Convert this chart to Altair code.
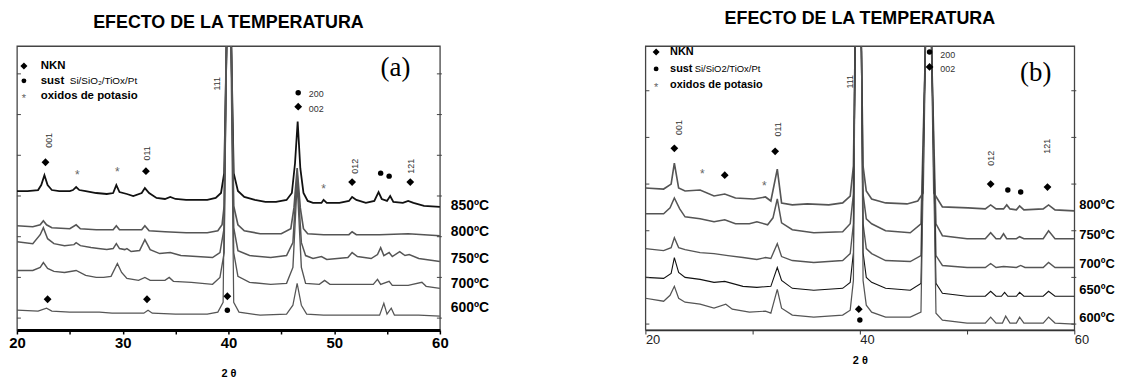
import altair as alt
import pandas as pd

TITLE = "EFECTO DE LA TEMPERATURA"
FONT = "Liberation Sans"

# ---------------- panel (a) data ----------------
A_NAMES = ["850ºC", "800ºC", "750ºC", "700ºC", "600ºC"]
A850_X = [20, 21, 22, 22.3, 22.6, 22.9, 23.3, 24, 25, 25.3, 25.6, 25.9, 26.5, 27.5, 28.5, 29.1, 29.4, 29.7, 30.4, 31,
          31.8, 32.1, 32.5, 33.2, 34, 34.5, 35, 36, 37, 38, 38.8, 39.3, 39.6, 39.8, 40.05, 40.3, 40.5, 40.9, 41.5, 42.5,
          43.5, 44.5, 45.5, 46.0, 46.3, 46.55, 46.8, 47.1, 47.5, 48, 48.8, 49.0, 49.3, 50.5, 51.4, 51.7, 52.1, 53, 53.8, 54.2,
          54.5, 55.0, 55.3, 55.6, 56.5, 57.0, 57.5, 58.5, 60]
A850_Y = [140, 140, 141, 146, 156, 146, 141, 140, 140, 141, 144, 141, 140, 138, 137, 138, 146, 139, 137, 135,
          138, 143, 138, 133, 132, 134, 132, 131, 131, 131, 133, 138, 158, 270, 420, 270, 158, 140, 134, 131,
          129, 129, 131, 138, 168, 210, 163, 138, 130, 128, 128, 131, 128, 128, 130, 134, 131, 128, 130, 139,
          132, 130, 135, 129, 128, 130, 128, 125, 124]
A800_X = [20, 21.5, 22.2, 22.5, 22.8, 23.3, 25, 25.6, 26, 27.5, 29.1, 29.4, 29.7, 31.8, 32.1, 32.5, 34, 36, 38, 39,
          39.4, 39.6, 39.8, 40.05, 40.3, 40.5, 40.9, 41.5, 43, 45, 45.9, 46.2, 46.5, 46.8, 47.1, 47.5, 49, 51.4, 51.7, 52.1,
          54.3, 57, 60]
A800_Y = [105, 104, 106, 110, 106, 103, 102, 106, 102, 101, 101, 105, 101, 101, 105, 100, 99, 98, 98, 100,
          106, 125, 270, 420, 270, 125, 106, 100, 97, 97, 102, 123, 163, 123, 102, 97, 96, 96, 99, 96,
          96, 97, 95]
A750_X = [20, 21.5, 22.2, 22.5, 22.9, 23.5, 24.5, 25.4, 25.6, 26, 27, 27.7, 28.5, 29.1, 29.4, 29.7, 30.2, 30.4, 30.8, 31.6,
          32.1, 32.6, 33.5, 34.5, 35.5, 37, 38.5, 39.2, 39.6, 39.8, 40.05, 40.3, 40.5, 40.9, 42, 44, 45.5, 46.1, 46.5, 46.9,
          47.3, 48, 48.8, 49.3, 51.3, 51.7, 52.2, 53.5, 54.1, 54.4, 54.7, 55.2, 55.5, 56.2, 56.7, 57.1, 58, 60]
A750_Y = [89, 87, 96, 103, 92, 87, 85, 86, 88, 85, 83, 82, 81, 82, 87, 82, 81, 82, 79, 80,
          91, 81, 77, 78, 75, 74, 73, 78, 103, 270, 420, 270, 103, 80, 75, 73, 75, 88, 158, 88,
          75, 72, 74, 71, 73, 78, 74, 72, 76, 83, 75, 78, 74, 79, 75, 76, 72, 69]
A700_X = [20, 21.5, 22.2, 22.5, 22.9, 23.5, 24.5, 25.6, 26.5, 27.5, 28.2, 28.9, 29.5, 29.9, 30.4, 31.5, 32.1, 32.6, 34, 34.4,
          34.8, 36.5, 38.5, 39.2, 39.6, 39.8, 40.05, 40.3, 40.5, 40.9, 42, 44, 45.5, 46.1, 46.5, 46.9, 47.3, 48.6, 49.1, 49.6,
          51.7, 53.7, 54.1, 54.4, 55.2, 55.5, 57, 58.3, 58.7, 60]
A700_Y = [60, 60, 63, 68, 62, 59, 58, 60, 55, 53, 53, 54, 67, 58, 52, 50, 53, 50, 50, 53,
          49, 48, 46, 53, 78, 270, 420, 270, 78, 54, 48, 46, 47, 63, 148, 63, 47, 46, 50, 46,
          46, 46, 51, 46, 49, 45, 45, 48, 44, 42]
A600_X = [20, 22, 22.8, 23.3, 25, 27.8, 29, 32, 32.4, 32.8, 35, 38, 39.0, 39.5, 39.75, 40.0, 40.25, 40.5, 41, 43,
          45.5, 46.1, 46.5, 46.9, 47.4, 49, 52, 54.3, 54.7, 55.0, 55.4, 55.7, 58, 60]
A600_Y = [20, 19, 22, 19, 18, 18, 17, 17, 20, 17, 16, 16, 18, 28, 270, 420, 270, 28, 18, 15,
          16, 25, 47, 25, 16, 15, 15, 15, 27, 16, 22, 15, 15, 14]
A_LABEL_Y = [125, 99, 72, 46, 22]

A_DIAMOND_X = [22.7, 32.2, 46.6, 51.7, 57.2, 22.9, 32.3, 39.9]
A_DIAMOND_Y = [169, 160, 225, 149, 149, 31, 31, 34]
A_CIRCLE_X = [46.6, 54.4, 55.2, 39.9]
A_CIRCLE_Y = [239, 158, 155, 20]
A_STAR_X = [25.7, 29.5, 49.0]
A_STAR_Y = [159, 162, 145]
A_HKL_V = ["001", "011", "111", "012", "121"]
A_HKL_V_X = [23.0, 32.3, 38.9, 52.0, 57.3]
A_HKL_V_Y = [191, 178, 248, 165, 165]
A_HKL_H = ["200", "002"]
A_HKL_H_X = [47.6, 47.6]
A_HKL_H_Y = [238, 223]
A_YTICKS = [258, 217, 176, 135, 94, 53, 12]

# ---------------- panel (b) data ----------------
B_NAMES = ["800ºC", "750ºC", "700ºC", "650ºC", "600ºC"]
B800_X = [20, 21.7, 22.4, 22.7, 23.1, 23.7, 25.1, 26.4, 27.4, 28.4, 30.1, 31.2, 31.7, 32.3, 32.7, 33.7, 35.1, 37.1, 38.4, 39.1,
          39.4, 39.55, 39.85, 40.15, 40.3, 40.6, 41.1, 42.4, 44.4, 45.4, 45.9, 46.1, 46.4, 46.7, 46.9, 47.7, 50.1, 51.7, 52.2, 52.7,
          53.4, 53.7, 54.0, 54.6, 54.9, 55.3, 57.1, 57.6, 58.2, 60]
B800_Y = [143, 142, 147, 168, 143, 140, 141, 135, 137, 133, 132, 134, 130, 162, 128, 126, 127, 126, 128, 135,
          165, 280, 420, 280, 165, 140, 132, 128, 127, 130, 138, 280, 420, 280, 138, 124, 123, 122, 126, 122,
          122, 126, 122, 121, 125, 121, 122, 126, 121, 120]
B750_X = [20, 21.7, 22.3, 22.7, 23.2, 23.7, 25.1, 26.4, 27.4, 28.4, 29.7, 30.4, 31.4, 31.9, 32.3, 32.7, 33.7, 35.7, 38.4, 39.1,
          39.4, 39.55, 39.85, 40.15, 40.3, 40.6, 41.1, 42.4, 44.7, 45.7, 46.1, 46.4, 46.7, 47.1, 47.7, 50, 51.7, 52.2, 52.7, 53.1,
          53.4, 53.7, 54.6, 54.9, 55.3, 57.1, 57.6, 58.2, 60]
B750_Y = [117, 117, 123, 133, 122, 114, 112, 109, 111, 107, 107, 109, 106, 113, 132, 108, 101, 98, 99, 107,
          137, 280, 420, 280, 137, 112, 107, 100, 98, 107, 280, 420, 280, 107, 95, 92, 92, 98, 92, 92,
          97, 92, 92, 94, 92, 92, 100, 92, 92]
B700_X = [20, 21.7, 22.4, 22.7, 23.1, 23.7, 25.1, 26.4, 27.7, 29.1, 30.4, 31.2, 31.7, 32.3, 32.7, 33.7, 35.7, 38.4, 39.1, 39.4,
          39.55, 39.85, 40.15, 40.3, 40.6, 41.1, 42.4, 44.7, 45.7, 46.1, 46.4, 46.7, 47.1, 47.7, 50, 51.7, 52.2, 52.7, 53.4, 54.6,
          55.0, 55.4, 57.1, 57.6, 58.2, 60]
B700_Y = [82, 80, 83, 93, 83, 81, 78, 77, 75, 73, 71, 73, 72, 87, 74, 70, 68, 70, 77, 107,
          280, 420, 280, 107, 82, 77, 70, 69, 75, 280, 420, 280, 75, 65, 63, 63, 67, 63, 64, 63,
          65, 63, 63, 68, 63, 63]
B650_X = [20, 21.7, 22.4, 22.7, 23.1, 23.7, 25.1, 26.4, 27.4, 29.1, 30.4, 31.7, 32.3, 32.7, 33.7, 35.7, 38.4, 39.1, 39.4, 39.55,
          39.85, 40.15, 40.3, 40.6, 41.1, 42.4, 44.7, 45.7, 46.1, 46.4, 46.7, 47.1, 47.7, 50, 51.7, 52.2, 52.7, 53.2, 53.5, 53.8,
          54.6, 54.9, 55.3, 57.1, 57.6, 58.2, 60]
B650_Y = [53, 52, 57, 73, 58, 53, 51, 48, 49, 44, 43, 44, 63, 50, 42, 40, 42, 48, 78, 280,
          420, 280, 78, 53, 48, 42, 40, 47, 280, 420, 280, 47, 37, 34, 34, 39, 34, 34, 38, 34,
          34, 38, 34, 34, 39, 34, 34]
B600_X = [20, 21.7, 22.3, 22.7, 23.1, 23.7, 25.1, 26.4, 27.5, 28.1, 29.7, 31.2, 31.7, 32.3, 32.7, 33.7, 35.7, 38.4, 39.1, 39.4,
          39.55, 39.85, 40.15, 40.3, 40.6, 41.1, 42.4, 44.7, 45.7, 46.1, 46.4, 46.7, 47.1, 47.7, 50, 51.7, 52.2, 52.7, 53.3, 53.6,
          54.0, 54.6, 54.9, 55.3, 57.1, 57.6, 58.2, 60]
B600_Y = [32, 29, 35, 44, 32, 28, 26, 22, 26, 21, 18, 19, 17, 41, 22, 15, 13, 15, 20, 50,
          280, 420, 280, 50, 25, 18, 13, 13, 18, 280, 420, 280, 17, 10, 7, 7, 13, 7, 7, 14,
          7, 7, 13, 7, 7, 13, 7, 6]
B_LABEL_Y = [126, 96, 66, 40, 12]

B_DIAMOND_X = [22.7, 27.4, 32.1, 46.5, 52.2, 57.5, 39.9]
B_DIAMOND_Y = [183, 156, 180, 265, 147, 144, 21]
B_CIRCLE_X = [46.5, 53.8, 55.0, 40.0]
B_CIRCLE_Y = [280, 141, 139, 10]
B_STAR_X = [25.3, 31.1]
B_STAR_Y = [160, 148]
B_HKL_V = ["001", "011", "111", "012", "121"]
B_HKL_V_X = [23.1, 32.4, 39.1, 52.2, 57.5]
B_HKL_V_Y = [204, 202, 250, 173, 185]
B_HKL_H = ["200", "002"]
B_HKL_H_X = [47.5, 47.5]
B_HKL_H_Y = [277, 263]
B_YTICKS = [241, 194, 147, 100, 53, 6]


def traces_df(names, xs, ys):
    rows = []
    for n, xx, yy in zip(names, xs, ys):
        for a, b in zip(xx, yy):
            rows.append({"T": n, "x": a, "y": b})
    return pd.DataFrame(rows)


def pts(xs, ys, text=None):
    d = {"x": xs, "y": ys}
    if text is not None:
        d["t"] = text
    return pd.DataFrame(d)


def panel(names, xs, ys, label_y, label_dx, label_size, colors, widths, dia, cir, star, hklv, hklh,
          yticks, xaxis, width, ymax, letter, letter_xy, legend, title_offset, leg_size, sust_sub):
    xsc = alt.Scale(domain=[20, 60], nice=False, zero=False)
    ysc = alt.Scale(domain=[0, ymax], nice=False, zero=False)
    X = alt.X("x:Q", scale=xsc, axis=xaxis)
    Y = alt.Y("y:Q", scale=ysc, axis=None)

    tr = traces_df(names, xs, ys)
    lines = alt.Chart(tr).mark_line(clip=True).encode(
        x=X, y=Y,
        color=alt.Color("T:N", scale=alt.Scale(domain=names, range=colors), legend=None),
        strokeWidth=alt.StrokeWidth("T:N", scale=alt.Scale(domain=names, range=widths), legend=None),
        detail="T:N",
    )
    labels = alt.Chart(pd.DataFrame({"x": [60] * len(names), "y": label_y, "t": names})).mark_text(
        align="left", baseline="middle", dx=label_dx, fontSize=label_size, fontWeight="bold", font=FONT, color="black"
    ).encode(x=X, y=Y, text="t:N")

    d_l = alt.Chart(pts(*dia)).mark_point(shape="diamond", filled=True, size=62, color="black", opacity=1).encode(x=X, y=Y)
    c_l = alt.Chart(pts(*cir)).mark_point(shape="circle", filled=True, size=30, color="black", opacity=1).encode(x=X, y=Y)
    s_l = alt.Chart(pts(*star)).mark_text(text="*", fontSize=12, dy=3, color="#666", font=FONT).encode(x=X, y=Y)
    hv = alt.Chart(pts(hklv[1], hklv[2], hklv[0])).mark_text(
        angle=270, fontSize=9, color="#333", font=FONT, baseline="middle", align="center"
    ).encode(x=X, y=Y, text="t:N")
    hh = alt.Chart(pts(hklh[1], hklh[2], hklh[0])).mark_text(
        align="left", baseline="middle", fontSize=9, color="#333", font=FONT
    ).encode(x=X, y=Y, text="t:N")

    let = alt.Chart(pts([letter_xy[0]], [letter_xy[1]], [letter])).mark_text(
        fontSize=27, font="Liberation Serif", color="black", baseline="middle", align="center"
    ).encode(x=X, y=Y, text="t:N")

    # legend block
    lx_sym, lx_txt, lx_sub, ly = legend
    leg_d = alt.Chart(pts([lx_sym], [ly[0]])).mark_point(shape="diamond", filled=True, size=50, color="black", opacity=1).encode(x=X, y=Y)
    leg_c = alt.Chart(pts([lx_sym], [ly[1]])).mark_point(shape="circle", filled=True, size=24, color="black", opacity=1).encode(x=X, y=Y)
    leg_s = alt.Chart(pts([lx_sym], [ly[2]], ["*"])).mark_text(fontSize=11, dy=3, color="#666", font=FONT).encode(x=X, y=Y, text="t:N")
    leg_t = alt.Chart(pts([lx_txt] * 3, ly, ["NKN", "sust", "oxidos de potasio"])).mark_text(
        align="left", baseline="middle", fontSize=leg_size, fontWeight="bold", font=FONT, color="black"
    ).encode(x=X, y=Y, text="t:N")
    leg_t2 = alt.Chart(pts([lx_sub], [ly[1]], [sust_sub])).mark_text(
        align="left", baseline="middle", fontSize=leg_size - 1.5, font=FONT, color="black"
    ).encode(x=X, y=Y, text="t:N")

    lt = alt.Chart(pd.DataFrame({"y": yticks})).mark_rule(color="#444", strokeWidth=1).encode(
        y=Y, x=alt.value(0), x2=alt.value(4))
    rt = alt.Chart(pd.DataFrame({"y": yticks})).mark_rule(color="#444", strokeWidth=1).encode(
        y=Y, x=alt.value(width - 3), x2=alt.value(width + 2))

    return alt.layer(lines, labels, d_l, c_l, s_l, hv, hh, let, leg_d, leg_c, leg_s, leg_t, leg_t2, lt, rt).properties(
        width=width, height=286,
        title=alt.TitleParams(TITLE, fontSize=18, fontWeight="bold", font=FONT, color="black",
                              anchor="middle", baseline="alphabetic", offset=title_offset),
    )


axis_a = alt.Axis(values=[20, 25, 30, 35, 40, 45, 50, 55, 60],
                  labelExpr="datum.value % 10 == 0 ? datum.label : ''",
                  labelFontSize=15, labelFontWeight="bold", labelColor="black", labelFont=FONT,
                  labelFlush=False,
                  domainColor="black", domainWidth=3, tickColor="black", tickSize=4, tickWidth=1.5,
                  labelPadding=2, grid=False, title="2 θ", titleFontSize=11, titleFontWeight="bold",
                  titleFont=FONT, titleColor="black", titlePadding=17)
axis_b = alt.Axis(values=[20, 30, 40, 50, 60],
                  labelExpr="datum.value % 20 == 0 ? datum.label : ''",
                  labelFontSize=13, labelFontWeight="normal", labelColor="#222", labelFont=FONT,
                  labelAlign="left", labelPadding=0, labelFlush=False,
                  domainColor="#333", domainWidth=1.3, tickColor="#333", tickSize=4, tickWidth=1,
                  grid=False, title="2 θ", titleFontSize=11, titleFontWeight="bold",
                  titleFont=FONT, titleColor="black", titlePadding=8)

pa = panel(A_NAMES, [A850_X, A800_X, A750_X, A700_X, A600_X], [A850_Y, A800_Y, A750_Y, A700_Y, A600_Y],
           A_LABEL_Y, 11, 14, ["#111111", "#555555", "#555555", "#555555", "#555555"], [1.8, 1.1, 1.1, 1.1, 1.1],
           (A_DIAMOND_X, A_DIAMOND_Y), (A_CIRCLE_X, A_CIRCLE_Y), (A_STAR_X, A_STAR_Y),
           (A_HKL_V, A_HKL_V_X, A_HKL_V_Y), (A_HKL_H, A_HKL_H_X, A_HKL_H_Y),
           A_YTICKS, axis_a, 426, 286, "(a)", (55.8, 264), (20.66, 22.25, 25.0, [266, 251, 236]), 0, 11.5,
           "Si/SiO₂/TiOx/Pt")
pb = panel(B_NAMES, [B800_X, B750_X, B700_X, B650_X, B600_X], [B800_Y, B750_Y, B700_Y, B650_Y, B600_Y],
           B_LABEL_Y, 5, 13, ["#4a4a4a"] * 5, [1.2] * 5,
           (B_DIAMOND_X, B_DIAMOND_Y), (B_CIRCLE_X, B_CIRCLE_Y), (B_STAR_X, B_STAR_Y),
           (B_HKL_V, B_HKL_V_X, B_HKL_V_Y), (B_HKL_H, B_HKL_H_X, B_HKL_H_Y),
           B_YTICKS, axis_b, 432, 286, "(b)", (56.4, 259), (21.0, 22.3, 24.6, [280, 263, 247]), 4, 11,
           "Si/SiO2/TiOx/Pt")

chart = alt.hconcat(pa, pb, spacing=207, bounds="flush").properties(
    padding={"left": 0, "top": 0, "right": 0, "bottom": 0}
).configure(font=FONT).configure_view(stroke="#444", strokeWidth=1.3)

chart.save("out.html", embed_options={"renderer": "svg", "actions": False})
